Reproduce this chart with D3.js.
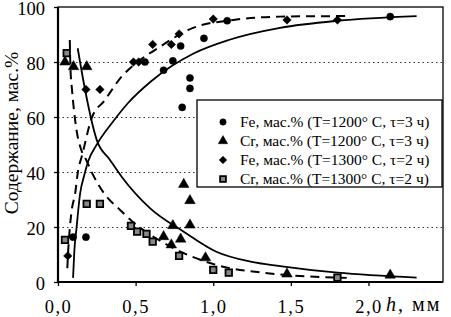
<!DOCTYPE html>
<html>
<head>
<meta charset="utf-8">
<script src="https://cdn.jsdelivr.net/npm/d3@7"></script>
<style>
  body { margin: 0; background: #fff; }
  svg text { font-family: "Liberation Serif", "Times New Roman", serif; }
  .grid line { stroke: #333; stroke-dasharray: 1.5,3; }
  .grid .domain { display: none; }
  .tick-label { font-size: 18.5px; fill: #000; }
  .legend-text { font-size: 15.5px; fill: #000; }
</style>
</head>
<body>
<svg width="451" height="317"></svg>
<script>
// measured points: [h, mm ; content, wt.%]
const fe1200 = [[0.097,16.3],[0.18,16.3],[0.56,80],[0.68,77],[0.74,80.4],[0.79,85.8],[0.85,74.2],[0.85,70.4],[0.80,63.5],[0.94,88.6],[1.09,95],[2.14,96.5]];
const cr1200 = [[0.045,80],[0.10,78.3],[0.185,78.3],[0.68,16.5],[0.74,20.5],[0.73,13.5],[0.79,15.6],[0.81,35.5],[0.85,29.6],[0.85,20.7],[0.95,8.8],[1.475,2.9],[2.14,2.5]];
const fe1300 = [[0.063,9.5],[0.18,70],[0.27,70],[0.486,80],[0.52,80],[0.61,86.4],[0.73,86.4],[0.78,90.2],[1.0,95.6],[1.475,95.3],[1.80,95.3]];
const cr1300 = [[0.056,83.2],[0.045,15.3],[0.185,28.4],[0.27,28.4],[0.47,20.4],[0.51,18.3],[0.57,17.5],[0.61,14.7],[0.78,9.5],[1.0,4.4],[1.10,3.4],[1.80,1.6]];

// fitted curves
const fitFe1200 = [[0.097,1.5],[0.105,11],[0.12,20],[0.142,32],[0.17,39],[0.195,44],[0.25,50],[0.35,58],[0.45,65],[0.6,73],[0.87,83],[1.1,88],[1.43,92.4],[1.8,95],[2.31,96.7]];
const fitCr1200 = [[0.127,85],[0.174,70],[0.25,51.6],[0.335,44.4],[0.41,38.3],[0.594,26.8],[0.81,18.3],[1.02,11],[1.24,7.4],[1.43,5.8],[1.8,3.4],[2.31,1.6]];
const fitFe1300 = [[0.06,5],[0.066,11.6],[0.088,26],[0.11,32],[0.13,40.7],[0.153,45.6],[0.217,59.6],[0.30,66],[0.41,74.7],[0.50,79.5],[0.626,84.4],[0.87,92.4],[1.13,95.3],[1.43,96.5],[1.86,96.7]];
const fitCr1300 = [[0.076,88],[0.08,78],[0.09,70],[0.1,64],[0.12,55],[0.15,48],[0.185,44],[0.22,39.6],[0.3,32],[0.4,26.2],[0.5,21],[0.6,17],[0.81,10.5],[1.02,6.2],[1.35,3.2],[1.86,1.5]];

const xTicks = [0, 0.5, 1.0, 1.5, 2.0];
const yTicks = [0, 20, 40, 60, 80, 100];
const gridTicks = [20, 40, 60, 80];
const legendLabels = [
  "Fe, мас.% (T=1200° C, τ=3 ч)",
  "Cr, мас.% (T=1200° C, τ=3 ч)",
  "Fe, мас.% (T=1300° C, τ=2 ч)",
  "Cr, мас.% (T=1300° C, τ=2 ч)"
];

const svg = d3.select("svg"),
  margin = { top: 7, right: 8, bottom: 35, left: 58 },
  width = +svg.attr("width") - margin.left - margin.right,
  height = +svg.attr("height") - margin.top - margin.bottom;

const g = svg.append("g").attr("transform", `translate(${margin.left},${margin.top})`);

const x = d3.scaleLinear().domain([0, 2.48]).range([0, width]);
const y = d3.scaleLinear().domain([0, 100]).range([height, 0]);

const fmt = d => d3.format(".1f")(d).replace(".", ",");

// dotted grid
g.append("g")
  .attr("class", "grid")
  .call(d3.axisLeft(y).tickValues(gridTicks).tickSize(-width).tickFormat(""));

// frame
g.append("rect")
  .attr("width", width)
  .attr("height", height)
  .attr("fill", "none")
  .attr("stroke", "#000")
  .attr("stroke-width", 1.3);
g.append("line")
  .attr("x1", 0).attr("x2", 0).attr("y1", 0).attr("y2", height)
  .attr("stroke", "#000").attr("stroke-width", 2.2);
g.append("line")
  .attr("x1", 0).attr("x2", width).attr("y1", height).attr("y2", height)
  .attr("stroke", "#000").attr("stroke-width", 2.2);

// axes
const xAxis = g.append("g")
  .attr("transform", `translate(0,${height})`)
  .call(d3.axisBottom(x).tickValues(xTicks).tickSize(4).tickPadding(14).tickFormat(fmt))
  .attr("font-family", null)
  .attr("font-size", null);
xAxis.select(".domain").remove();
xAxis.selectAll("line").attr("stroke-width", 1.3);
xAxis.selectAll("text").attr("class", "tick-label").style("letter-spacing", "1.5px");

const yAxis = g.append("g")
  .call(d3.axisLeft(y).tickValues(yTicks).tickSize(4).tickPadding(9).tickFormat(d3.format("d")))
  .attr("font-family", null)
  .attr("font-size", null);
yAxis.select(".domain").remove();
yAxis.selectAll("line").attr("stroke-width", 1.3);
yAxis.selectAll("text").attr("class", "tick-label").attr("dy", "0.4em");

// axis labels
svg.append("text")
  .attr("transform", "rotate(-90)")
  .attr("x", -(margin.top + 126))
  .attr("y", 18)
  .attr("text-anchor", "middle")
  .attr("font-size", 19.5)
  .text("Содержание, мас.%");

const hl = svg.append("text")
  .attr("x", 386)
  .attr("y", 311)
  .attr("font-size", 20)
  .style("letter-spacing", "2px");
hl.append("tspan").attr("font-style", "italic").text("h");
hl.append("tspan").text(", мм");

// fitted lines
const line = d3.line()
  .x(d => x(d[0]))
  .y(d => y(d[1]))
  .curve(d3.curveMonotoneX);

g.append("path").datum(fitFe1200).attr("d", line)
  .attr("fill", "none").attr("stroke", "#000").attr("stroke-width", 1.8);
g.append("path").datum(fitCr1200).attr("d", line)
  .attr("fill", "none").attr("stroke", "#000").attr("stroke-width", 1.8);
g.append("path").datum(fitFe1300).attr("d", line)
  .attr("fill", "none").attr("stroke", "#000").attr("stroke-width", 2)
  .attr("stroke-dasharray", "9,6");
g.append("path").datum(fitCr1300).attr("d", line)
  .attr("fill", "none").attr("stroke", "#000").attr("stroke-width", 2)
  .attr("stroke-dasharray", "9,6");

// markers
const series = [
  { data: fe1200, type: d3.symbolCircle, size: 40, rot: 0, fill: "#000" },
  { data: cr1200, type: d3.symbolTriangle, size: 48, rot: 0, fill: "#000" },
  { data: fe1300, type: d3.symbolSquare, size: 36, rot: 45, fill: "#000" },
  { data: cr1300, type: d3.symbolSquare, size: 42, rot: 0, fill: "#888" }
];

series.forEach(s => {
  g.selectAll(null)
    .data(s.data)
    .enter()
    .append("path")
    .attr("d", d3.symbol().type(s.type).size(s.size))
    .attr("transform", d => `translate(${x(d[0])},${y(d[1])}) rotate(${s.rot})`)
    .attr("fill", s.fill)
    .attr("stroke", "#000")
    .attr("stroke-width", s.fill === "#000" ? 0.5 : 1.8);
});

// legend
const lg = svg.append("g").attr("transform", "translate(197,100)");
lg.append("rect")
  .attr("width", 245)
  .attr("height", 87)
  .attr("fill", "#fff")
  .attr("stroke", "#000")
  .attr("stroke-width", 1.3);

const rows = lg.selectAll(".row")
  .data(series)
  .enter()
  .append("g")
  .attr("transform", (d, i) => `translate(0,${22 + i * 19})`);

rows.append("path")
  .attr("d", d => d3.symbol().type(d.type).size(d.size * 0.8)())
  .attr("transform", d => `translate(26,0) rotate(${d.rot})`)
  .attr("fill", d => d.fill)
  .attr("stroke", "#000")
  .attr("stroke-width", d => d.fill === "#000" ? 0.5 : 1.8);

rows.append("text")
  .attr("class", "legend-text")
  .attr("x", 43)
  .attr("y", 5)
  .text((d, i) => legendLabels[i]);
</script>
</body>
</html>
